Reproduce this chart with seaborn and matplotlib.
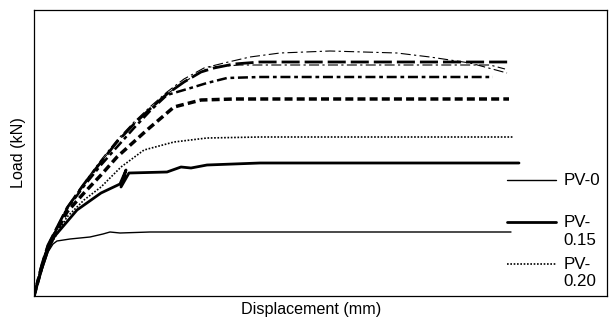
import numpy as np
import pandas as pd
import seaborn as sns
import matplotlib
matplotlib.use("Agg")
import matplotlib.pyplot as plt
from matplotlib.lines import Line2D

sns.set_style("white")
plt.rcParams["font.family"] = ["Liberation Sans", "DejaVu Sans"]
plt.rcParams["text.color"] = "black"
plt.rcParams["axes.labelcolor"] = "black"

# Displacement / load readings (arbitrary units)
pv0_x = [0, 8, 14, 19, 23, 36, 56, 69, 76, 86, 116, 477]
pv0_y = [0, 26, 44, 52, 55, 57, 59, 62, 64, 63, 64, 64]

pv015_x = [0, 8, 14, 20, 43, 67, 86, 92, 87, 95, 133, 147, 157, 173, 226, 485]
pv015_y = [0, 28, 46, 59, 86, 103, 112, 126, 109, 123, 124, 129, 128, 131, 133, 133]

pv020_x = [0, 8, 14, 33, 50, 67, 87, 110, 140, 173, 226, 479]
pv020_y = [0, 28, 47, 79, 96, 109, 129, 146, 154, 158, 159, 159]

sa_x = [0, 8, 14, 33, 50, 67, 83, 113, 140, 167, 200, 475]
sa_y = [0, 30, 49, 84, 103, 121, 139, 166, 189, 196, 197, 197]

sb_x = [0, 8, 14, 33, 50, 67, 83, 100, 117, 133, 160, 173, 193, 226, 459]
sb_y = [0, 31, 50, 87, 110, 131, 149, 168, 186, 201, 209, 213, 218, 219, 219]

sc_x = [0, 8, 14, 33, 50, 67, 83, 100, 117, 133, 150, 167, 180, 200, 226, 476]
sc_y = [0, 32, 51, 88, 112, 134, 154, 172, 188, 202, 214, 224, 228, 232, 234, 234]

sd_x = [0, 8, 14, 33, 50, 67, 83, 100, 117, 133, 150, 167, 176, 206, 456, 471]
sd_y = [0, 32, 51, 88, 112, 134, 154, 172, 188, 202, 214, 224, 229, 231, 231, 227]

se_x = [0, 8, 14, 33, 50, 67, 83, 100, 117, 133, 150, 170, 190, 216, 246, 296, 363, 396, 436, 473]
se_y = [0, 33, 52, 89, 113, 136, 156, 174, 190, 204, 217, 228, 233, 239, 243, 245, 243, 239, 233, 223]

legend_labels = ["PV-0\n ", "PV-\n0.15", "PV-\n0.20"]

FS = 11.6
LFS = 12.2

fig = plt.figure(figsize=(6.12, 3.22), dpi=100)
ax = fig.add_axes([34 / 612, 26 / 322, 573 / 612, 286 / 322])

styles = [
    (se_x, se_y, 0.8, (0, (9, 3, 2, 3))),
    (sd_x, sd_y, 0.8, (0, (9, 3, 2, 3))),
    (sc_x, sc_y, 2.0, (0, (6.5, 1.8))),
    (sb_x, sb_y, 1.8, (0, (4, 1.5, 1.5, 1.5))),
    (sa_x, sa_y, 2.5, (0, (2.3, 1.2))),
    (pv020_x, pv020_y, 1.2, (0, (1, 1))),
    (pv015_x, pv015_y, 2.0, "-"),
    (pv0_x, pv0_y, 1.0, "-"),
]
for xs, ys, lw, ls in styles:
    sns.lineplot(x=xs, y=ys, ax=ax, color="black", lw=lw, linestyle=ls,
                 sort=False, estimator=None)

ax.set_xlim(0, 573)
ax.set_ylim(0, 286)
ax.set_xticks([])
ax.set_yticks([])
for s in ax.spines.values():
    s.set_color("black")
    s.set_linewidth(0.9)

ax.set_xlabel("Displacement (mm)", fontsize=FS)
ax.xaxis.set_label_coords(0.483, -0.022)
ax.set_ylabel("Load (kN)", fontsize=FS, labelpad=6)

handles = [
    Line2D([], [], color="black", lw=1.0),
    Line2D([], [], color="black", lw=2.0),
    Line2D([], [], color="black", lw=1.2, linestyle=(0, (1, 1))),
]
leg = ax.legend(handles, legend_labels, loc="lower right",
                bbox_to_anchor=(1.0, 0.0), frameon=False, fontsize=LFS,
                handlelength=2.9, handletextpad=0.42, labelspacing=0.55,
                handleheight=1.0, borderaxespad=0.2, borderpad=0.2)
# align handles with the first text line
for col in leg._legend_handle_box.get_children():
    for item in col.get_children():
        item.align = "top"

fig.savefig("out.png", dpi=100)
